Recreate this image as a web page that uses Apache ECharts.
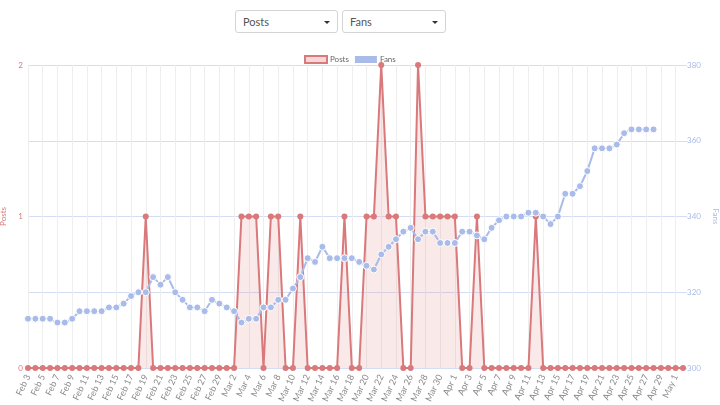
<!DOCTYPE html>
<html>
<head>
<meta charset="utf-8">
<script src="https://cdn.jsdelivr.net/npm/echarts@6/dist/echarts.min.js"></script>
<style>
html,body{margin:0;padding:0;background:#fff;font-family:Lato,"Noto Sans",sans-serif;}
#chart{position:absolute;left:0;top:0;width:720px;height:405px;}
.sel{position:absolute;top:10px;height:23px;border:1px solid #d4d4d4;border-radius:3px;background:#fff;box-sizing:border-box;font-size:11px;color:#555;line-height:21px;padding-left:7px;z-index:2;}
.sel:after{content:"";position:absolute;right:7px;top:10px;border-left:3px solid transparent;border-right:3px solid transparent;border-top:3px solid #333;}
</style>
</head>
<body>
<div id="chart"></div>
<div class="sel" style="left:235px;width:103px;">Posts</div>
<div class="sel" style="left:342px;width:104px;">Fans</div>
<script>
var categories = ["Feb 3","Feb 4","Feb 5","Feb 6","Feb 7","Feb 8","Feb 9","Feb 10","Feb 11","Feb 12","Feb 13","Feb 14","Feb 15","Feb 16","Feb 17","Feb 18","Feb 19","Feb 20","Feb 21","Feb 22","Feb 23","Feb 24","Feb 25","Feb 26","Feb 27","Feb 28","Feb 29",
"Mar 1","Mar 2","Mar 3","Mar 4","Mar 5","Mar 6","Mar 7","Mar 8","Mar 9","Mar 10","Mar 11","Mar 12","Mar 13","Mar 14","Mar 15","Mar 16","Mar 17","Mar 18","Mar 19","Mar 20","Mar 21","Mar 22","Mar 23","Mar 24","Mar 25","Mar 26","Mar 27","Mar 28","Mar 29","Mar 30","Mar 31",
"Apr 1","Apr 2","Apr 3","Apr 4","Apr 5","Apr 6","Apr 7","Apr 8","Apr 9","Apr 10","Apr 11","Apr 12","Apr 13","Apr 14","Apr 15","Apr 16","Apr 17","Apr 18","Apr 19","Apr 20","Apr 21","Apr 22","Apr 23","Apr 24","Apr 25","Apr 26","Apr 27","Apr 28","Apr 29","Apr 30",
"May 1","May 2"];
var posts = [0,0,0,0,0,0,0,0,0,0,0,0,0,0,0,0,1,0,0,0,0,0,0,0,0,0,0,
0,0,1,1,1,0,1,1,0,0,1,0,0,0,0,0,1,0,0,1,1,2,1,1,0,0,2,1,1,1,1,
1,0,0,1,0,0,0,0,0,0,0,1,0,0,0,0,0,0,0,0,0,0,0,0,0,0,0,0,0,0,
0,0];
var fans = [313,313,313,313,312,312,313,315,315,315,315,316,316,317,319,320,320,324,322,324,320,318,316,316,315,318,317,
316,315,312,313,313,316,316,318,318,321,324,329,328,332,329,329,329,329,328,327,326,330,332,334,336,337,334,336,336,333,333,
333,336,336,335,334,337,339,340,340,340,341,341,340,338,340,346,346,348,352,358,358,358,359,362,363,363,363,363];
var postsTicks = [0,1,2];
var fansTicks = [300,320,340,360,380];

var red = '#d9797b', blue = '#a9bbe8';
var chart = echarts.init(document.getElementById('chart'));
chart.setOption({
  animation:false,
  textStyle:{fontFamily:'Lato, "Noto Sans", sans-serif'},
  legend:{
    top:50, left:299, itemWidth:22, itemHeight:7, itemGap:6,
    textStyle:{fontSize:8,color:'#666',padding:[0,0,0,-2]},
    data:[
      {name:'Posts', icon:'rect', itemStyle:{color:'#f5d7d7',borderColor:red,borderWidth:2}},
      {name:'Fans', icon:'rect', itemStyle:{color:blue,borderWidth:0}}
    ]
  },
  grid:{left:28,right:37,top:65,bottom:37,containLabel:false,outerBoundsMode:'none'},
  xAxis:{
    type:'category', data:categories, boundaryGap:false,
    axisLine:{show:false}, axisTick:{show:false},
    axisLabel:{interval:1, rotate:65, fontSize:9, color:'#8a8a8a', margin:7},
    splitLine:{show:true, interval:1, lineStyle:{color:'#eeeeee',width:1}}
  },
  yAxis:[
    {type:'value', min:postsTicks[0], max:postsTicks[postsTicks.length-1], interval:1,
     name:'Posts', nameLocation:'middle', nameGap:19, nameTextStyle:{color:red,fontSize:8},
     axisLine:{show:false}, axisTick:{show:false}, splitLine:{show:false},
     axisLabel:{color:red,fontSize:8,margin:5}},
    {type:'value', min:fansTicks[0], max:fansTicks[fansTicks.length-1], interval:20,
     name:'Fans', nameLocation:'middle', nameGap:26, nameRotate:-90, nameTextStyle:{color:blue,fontSize:8},
     axisLine:{show:false}, axisTick:{show:true,length:4,lineStyle:{color:'#d3def5'}},
     splitLine:{show:true,lineStyle:{color:'#d3def5',width:1}},
     axisLabel:{color:blue,fontSize:8,margin:4}}
  ],
  series:[
    {name:'Posts', type:'line', yAxisIndex:0, data:posts, showAllSymbol:true,
     symbol:'circle', symbolSize:6, itemStyle:{color:red},
     lineStyle:{color:red,width:2}, areaStyle:{color:'rgba(230,150,150,0.3)'}},
    {name:'Fans', type:'line', yAxisIndex:1, data:fans, showAllSymbol:true,
     symbol:'circle', symbolSize:7, itemStyle:{color:blue,borderColor:'#fff',borderWidth:1},
     lineStyle:{color:blue,width:2}}
  ]
});
</script>
</body>
</html>
